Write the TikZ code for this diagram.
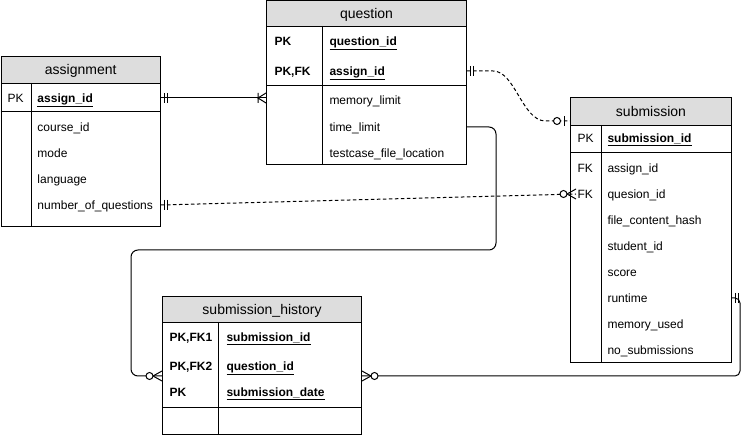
\documentclass[tikz,border=0pt]{standalone}
\usepackage{fontspec}
\setmainfont{Liberation Sans}
\usetikzlibrary{calc}
\definecolor{hdr}{HTML}{DDDDDD}
\begin{document}
\begin{tikzpicture}[x=1pt,y=-1pt,line width=1pt,
  frame/.style={draw,inner sep=0pt,anchor=north west},
  hdrbox/.style={draw,fill=hdr,inner sep=0pt,anchor=north west,text height=10pt,text depth=0pt,font=\fontsize{14}{16}\selectfont},
  cell/.style={anchor=west,inner sep=0pt,text height=8.6pt,text depth=0pt,font=\fontsize{12}{14}\selectfont},
  keycell/.style={cell,font=\fontsize{12}{14}\selectfont\bfseries},
  conn/.style={draw,line width=1pt},
  dashconn/.style={conn,dash pattern=on 3.5pt off 2.5pt},
  mone/.pic={\draw[solid,line width=1pt] (3,-5)--(3,5) (6.5,-5)--(6.5,5);},
  onemany/.pic={\draw[solid,line width=1pt] (0,-5)--(8,0)--(0,5) (8,-5)--(8,5);},
  zone/.pic={\draw[solid,line width=1pt] (6,-5)--(6,5); \draw[solid,line width=1pt,fill=white] (13,0) circle (3.5);},
  zmany/.pic={\draw[solid,line width=1pt] (0,-5)--(9,0)--(0,5); \draw[solid,line width=1pt,fill=white] (12.5,0) circle (3.5);}
]
\useasboundingbox (0,0) rectangle (750,435);

% ---------- assignment ----------
\node[frame,minimum width=159.5pt,minimum height=170pt] (asg) at (0.5,56) {};
\node[hdrbox,minimum width=159.5pt,minimum height=27pt] (asgH) at (0.5,56) {assignment};
\draw (0.5,112) -- (160,112);
\draw (31,83) -- (31,226);
\node[cell] (asgPK) at (7,98) {PK};
\node[keycell] (asgAid) at (37,98) {\underline{assign\_id}};
\node[cell] (asgCid) at (37,127) {course\_id};
\node[cell] (asgMode) at (37,153) {mode};
\node[cell] (asgLang) at (37,179) {language};
\node[cell] (asgNq) at (37,205) {number\_of\_questions};

% ---------- question ----------
\node[frame,minimum width=200pt,minimum height=163.5pt] (q) at (266,0.5) {};
\node[hdrbox,minimum width=200pt,minimum height=25.5pt] (qH) at (266,0.5) {question};
\draw (266,86) -- (466,86);
\draw (322,26) -- (322,164);
\node[keycell] (qPK1) at (274,41) {PK};
\node[keycell] (qPK2) at (274,71) {PK,FK};
\node[keycell] (qQid) at (329,41) {\underline{question\_id}};
\node[keycell] (qAid) at (329,71) {\underline{assign\_id}};
\node[cell] (qMem) at (329,100) {memory\_limit};
\node[cell] (qTime) at (329,127) {time\_limit};
\node[cell] (qTest) at (329,153) {testcase\_file\_location};

% ---------- submission ----------
\node[frame,minimum width=161pt,minimum height=265pt] (sub) at (570,97) {};
\node[hdrbox,minimum width=161pt,minimum height=28pt] (subH) at (570,97) {submission};
\draw (570,153) -- (731,153);
\draw (601,125) -- (601,362);
\node[cell] (subPK) at (577,138) {PK};
\node[keycell] (subSid) at (607,138) {\underline{submission\_id}};
\node[cell] (subFK1) at (577,168) {FK};
\node[cell] (subAid) at (607,168) {assign\_id};
\node[cell] (subFK2) at (577,194) {FK};
\node[cell] (subQid) at (607,194) {quesion\_id};
\node[cell] (subHash) at (607,220) {file\_content\_hash};
\node[cell] (subStud) at (607,246) {student\_id};
\node[cell] (subScore) at (607,272) {score};
\node[cell] (subRun) at (607,298) {runtime};
\node[cell] (subMem) at (607,324) {memory\_used};
\node[cell] (subNo) at (607,350) {no\_submissions};

% ---------- submission_history ----------
\node[frame,minimum width=199pt,minimum height=138pt] (sh) at (162,296) {};
\node[hdrbox,minimum width=199pt,minimum height=26pt] (shH) at (162,296) {submission\_history};
\draw (162,408) -- (361,408);
\draw (218,322) -- (218,434);
\node[keycell] (shK1) at (169,337) {PK,FK1};
\node[keycell] (shSid) at (226,337) {\underline{submission\_id}};
\node[keycell] (shK2) at (169,366) {PK,FK2};
\node[keycell] (shQid) at (226,366) {\underline{question\_id}};
\node[keycell] (shK3) at (169,392) {PK};
\node[keycell] (shDate) at (226,392) {\underline{submission\_date}};

% ---------- connectors ----------
% assignment -- question
\draw[conn] (asg.east |- asgAid) -- (q.west |- asgAid);
\path (asg.east |- asgAid) pic {mone};
\path (q.west |- asgAid) pic[rotate=180] {onemany};

% question -- submission (dashed curve)
\coordinate (subIn) at ($(sub.west |- subH.south)+(0,-5)$);
\draw[dashconn] (q.east |- qAid) -- ++(26,0) .. controls +(22,0) and (522,120) .. ($(subIn)+(-25,0)$) -- (subIn);
\path (q.east |- qAid) pic {mone};
\path (subIn) pic[rotate=180] {zone};

% assignment -- submission (dashed)
\coordinate (subQin) at ($(sub.west |- subQid)+(6,0)$);
\draw[dashconn] (asg.east |- asgNq) -- (subQin);
\path (asg.east |- asgNq) pic {mone};
\path (subQin) pic[rotate=180] {zmany};

% question -- submission_history
\coordinate (shL) at ($(sh.west |- shQid)+(0,10)$);
\draw[conn,rounded corners=7pt] (q.east |- qTime) -| (496,250) -| (131,376) -- (shL);
\path (shL) pic[rotate=180] {zmany};

% submission -- submission_history
\coordinate (shR) at ($(sh.east |- shQid)+(0,10)$);
\draw[conn,rounded corners=5pt] (sub.east |- subRun) -| (740,376) -- (shR);
\path (sub.east |- subRun) pic {mone};
\path (shR) pic {zmany};
\end{tikzpicture}
\end{document}
